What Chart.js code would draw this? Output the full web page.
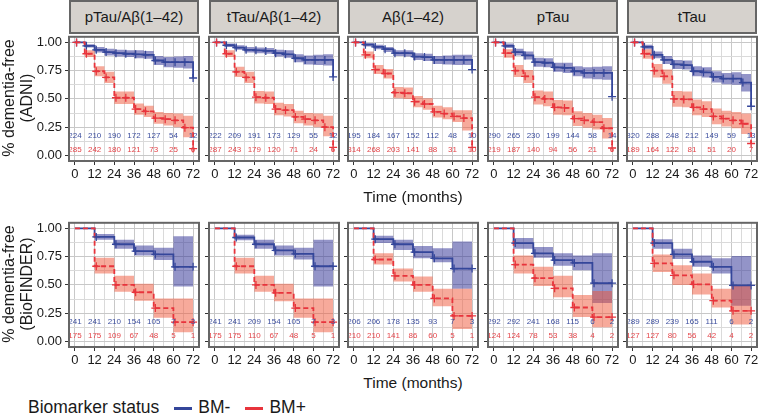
<!DOCTYPE html>
<html>
<head>
<meta charset="utf-8">
<script src="https://cdn.jsdelivr.net/npm/chart.js@4.4.1/dist/chart.umd.min.js"></script>
<style>
body { margin: 0; background: #fff; font-family: "Liberation Sans", Arial, Helvetica, sans-serif; }
#wrap { position: relative; width: 758px; height: 414px; overflow: hidden; }
#wrap canvas { position: absolute; }
.strip { position: absolute; top: 0; width: 130px; height: 34px; box-sizing: border-box; border: 2px solid #666;
  background: #d6d2cd; color: #1a1a1a; font-size: 15px; text-align: center; line-height: 30px; }
.ytitle { position: absolute; width: 200px; height: 36px; line-height: 18px; font-size: 16px; text-align: center;
  color: #1a1a1a; transform: rotate(-90deg); }
.xtitle { position: absolute; width: 200px; text-align: center; font-size: 15.5px; color: #1a1a1a; line-height: 18px; }
#legend { position: absolute; left: 28px; top: 397px; font-size: 17.5px; color: #1a1a1a; line-height: 20px; white-space: nowrap; }
#legend .key { display: inline-block; width: 18px; height: 3px; vertical-align: middle; margin: 0 6px 0 15px; }
</style>
</head>
<body>
<div id="wrap"></div>
<script>
// facets
var markerNames = ['pTau/Aβ(1–42)', 'tTau/Aβ(1–42)', 'Aβ(1–42)', 'pTau', 'tTau'];
var cohortNames = ['ADNI', 'BioFINDER'];

// time grids (months)
var adniTimes = [0, 6, 12, 18, 24, 30, 36, 42, 48, 54, 60, 66, 72];
var bfTimes = [0, 12, 24, 36, 48, 60, 72];
var riskTimes = [0, 12, 24, 36, 48, 60, 72];
var adniCensor = [1, 7, 13, 19, 25, 31, 37, 43, 49, 55, 61, 67, 72];
var bfCensor = [13, 25, 37, 49, 61, 72];

// ADNI, BM- (one row per biomarker)
var adniNegSurv = [
  [1, 0.97, 0.935, 0.915, 0.905, 0.90, 0.895, 0.89, 0.84, 0.825, 0.825, 0.825, 0.685],
  [1, 0.975, 0.955, 0.935, 0.93, 0.925, 0.905, 0.895, 0.86, 0.845, 0.845, 0.845, 0.695],
  [1, 0.98, 0.96, 0.94, 0.905, 0.905, 0.875, 0.87, 0.845, 0.845, 0.845, 0.845, 0.76],
  [1, 0.97, 0.915, 0.885, 0.825, 0.82, 0.78, 0.775, 0.745, 0.73, 0.73, 0.73, 0.52],
  [1, 0.96, 0.89, 0.845, 0.805, 0.80, 0.745, 0.735, 0.695, 0.68, 0.68, 0.645, 0.435]
];
var adniNegLo = [
  [1, 0.955, 0.91, 0.885, 0.875, 0.87, 0.86, 0.855, 0.80, 0.78, 0.775, 0.77, 0.685],
  [1, 0.96, 0.935, 0.91, 0.905, 0.90, 0.875, 0.865, 0.825, 0.805, 0.80, 0.795, 0.695],
  [1, 0.965, 0.94, 0.915, 0.88, 0.875, 0.845, 0.835, 0.81, 0.805, 0.80, 0.80, 0.76],
  [1, 0.95, 0.885, 0.85, 0.785, 0.78, 0.74, 0.73, 0.70, 0.68, 0.675, 0.67, 0.52],
  [1, 0.94, 0.86, 0.81, 0.765, 0.76, 0.70, 0.69, 0.645, 0.63, 0.625, 0.565, 0.435]
];
var adniNegHi = [
  [1, 0.985, 0.96, 0.945, 0.935, 0.93, 0.93, 0.925, 0.88, 0.87, 0.875, 0.88, 0.685],
  [1, 0.99, 0.975, 0.96, 0.955, 0.95, 0.935, 0.93, 0.895, 0.885, 0.89, 0.895, 0.695],
  [1, 0.995, 0.98, 0.96, 0.93, 0.93, 0.905, 0.90, 0.88, 0.885, 0.89, 0.89, 0.76],
  [1, 0.99, 0.945, 0.92, 0.865, 0.86, 0.82, 0.82, 0.79, 0.78, 0.785, 0.79, 0.52],
  [1, 0.98, 0.92, 0.88, 0.845, 0.84, 0.79, 0.78, 0.745, 0.73, 0.735, 0.72, 0.435]
];
// ADNI, BM+
var adniPosSurv = [
  [1, 0.90, 0.745, 0.69, 0.51, 0.51, 0.41, 0.39, 0.33, 0.32, 0.31, 0.245, 0.06],
  [1, 0.90, 0.74, 0.69, 0.515, 0.51, 0.41, 0.40, 0.34, 0.32, 0.31, 0.25, 0.07],
  [1, 0.89, 0.76, 0.725, 0.555, 0.55, 0.475, 0.455, 0.385, 0.37, 0.345, 0.33, 0.07],
  [1, 0.905, 0.75, 0.70, 0.515, 0.50, 0.425, 0.42, 0.325, 0.31, 0.295, 0.24, 0.065],
  [1, 0.90, 0.75, 0.70, 0.50, 0.495, 0.425, 0.41, 0.345, 0.325, 0.31, 0.28, 0.105]
];
var adniPosLo = [
  [1, 0.87, 0.70, 0.64, 0.455, 0.455, 0.36, 0.34, 0.28, 0.265, 0.25, 0.16, 0.06],
  [1, 0.87, 0.695, 0.64, 0.46, 0.455, 0.355, 0.345, 0.285, 0.265, 0.25, 0.17, 0.07],
  [1, 0.86, 0.72, 0.68, 0.505, 0.50, 0.425, 0.405, 0.335, 0.32, 0.295, 0.22, 0.07],
  [1, 0.865, 0.695, 0.64, 0.45, 0.435, 0.36, 0.355, 0.26, 0.245, 0.23, 0.15, 0.065],
  [1, 0.855, 0.69, 0.635, 0.43, 0.425, 0.355, 0.34, 0.275, 0.255, 0.24, 0.19, 0.105]
];
var adniPosHi = [
  [1, 0.93, 0.79, 0.74, 0.565, 0.565, 0.46, 0.44, 0.385, 0.375, 0.37, 0.35, 0.06],
  [1, 0.93, 0.785, 0.74, 0.57, 0.565, 0.465, 0.455, 0.395, 0.375, 0.37, 0.35, 0.07],
  [1, 0.92, 0.80, 0.765, 0.605, 0.60, 0.525, 0.505, 0.44, 0.425, 0.40, 0.40, 0.07],
  [1, 0.94, 0.80, 0.755, 0.575, 0.565, 0.49, 0.485, 0.39, 0.375, 0.36, 0.33, 0.065],
  [1, 0.94, 0.81, 0.76, 0.57, 0.565, 0.495, 0.48, 0.415, 0.395, 0.385, 0.37, 0.105]
];

// BioFINDER, BM-
var bfNegSurv = [
  [1, 0.925, 0.86, 0.80, 0.77, 0.66, 0.66],
  [1, 0.92, 0.86, 0.805, 0.775, 0.665, 0.665],
  [1, 0.905, 0.86, 0.79, 0.735, 0.645, 0.645],
  [1, 0.87, 0.78, 0.72, 0.695, 0.515, 0.515],
  [1, 0.87, 0.77, 0.705, 0.66, 0.495, 0.495]
];
var bfNegLo = [
  [1, 0.90, 0.82, 0.76, 0.72, 0.485, 0.485],
  [1, 0.895, 0.82, 0.76, 0.725, 0.485, 0.485],
  [1, 0.87, 0.81, 0.735, 0.70, 0.465, 0.465],
  [1, 0.82, 0.74, 0.67, 0.63, 0.34, 0.34],
  [1, 0.82, 0.73, 0.66, 0.60, 0.315, 0.315]
];
var bfNegHi = [
  [1, 0.95, 0.90, 0.85, 0.83, 0.93, 0.93],
  [1, 0.945, 0.90, 0.85, 0.83, 0.90, 0.90],
  [1, 0.935, 0.90, 0.845, 0.825, 0.885, 0.885],
  [1, 0.915, 0.835, 0.78, 0.76, 0.78, 0.78],
  [1, 0.905, 0.82, 0.76, 0.735, 0.755, 0.755]
];
// BioFINDER, BM+
var bfPosSurv = [
  [1, 0.665, 0.50, 0.435, 0.295, 0.17, 0.17],
  [1, 0.665, 0.50, 0.43, 0.295, 0.17, 0.17],
  [1, 0.725, 0.58, 0.50, 0.38, 0.225, 0.225],
  [1, 0.68, 0.56, 0.47, 0.30, 0.215, 0.215],
  [1, 0.69, 0.585, 0.505, 0.36, 0.27, 0.27]
];
var bfPosLo = [
  [1, 0.60, 0.44, 0.36, 0.21, 0.08, 0.08],
  [1, 0.60, 0.44, 0.355, 0.21, 0.08, 0.08],
  [1, 0.68, 0.53, 0.44, 0.31, 0.11, 0.11],
  [1, 0.60, 0.49, 0.39, 0.215, 0.125, 0.125],
  [1, 0.615, 0.50, 0.415, 0.30, 0.15, 0.15]
];
var bfPosHi = [
  [1, 0.74, 0.58, 0.51, 0.38, 0.38, 0.38],
  [1, 0.74, 0.58, 0.51, 0.38, 0.38, 0.38],
  [1, 0.78, 0.645, 0.575, 0.465, 0.465, 0.465],
  [1, 0.76, 0.66, 0.58, 0.41, 0.445, 0.445],
  [1, 0.77, 0.675, 0.60, 0.465, 0.50, 0.50]
];

// numbers at risk
var adniNegRisk = [
  [224, 210, 190, 172, 127, 54, 12],
  [222, 209, 191, 173, 129, 55, 12],
  [195, 184, 167, 152, 112, 48, 10],
  [290, 265, 230, 199, 144, 58, 14],
  [320, 288, 248, 212, 149, 59, 13]
];
var adniPosRisk = [
  [285, 242, 180, 121, 73, 25, 6],
  [287, 243, 179, 120, 71, 24, 6],
  [314, 268, 203, 141, 88, 31, 10],
  [219, 187, 140, 94, 56, 21, 6],
  [189, 164, 122, 81, 51, 20, 7]
];
var bfNegRisk = [
  [241, 241, 210, 154, 105, 7, 3],
  [241, 241, 209, 154, 105, 7, 3],
  [206, 206, 178, 135, 93, 7, 3],
  [292, 292, 241, 168, 115, 6, 2],
  [289, 289, 239, 165, 111, 6, 2]
];
var bfPosRisk = [
  [175, 175, 109, 67, 48, 5, 1],
  [175, 175, 110, 67, 48, 5, 1],
  [210, 210, 141, 86, 60, 5, 1],
  [124, 124, 78, 53, 38, 4, 2],
  [127, 127, 80, 56, 42, 4, 2]
];

var blue = '#34469a', red = '#e8343c';
var blueBand = 'rgba(40, 42, 145, 0.5)', redBand = 'rgba(240, 85, 55, 0.5)';
var blueText = '#3d4f9f', redText = '#e5454a';

var panelLeft = [69, 209, 348, 488, 627];
var panelW = 130, panelH = 127;
var rowTop = [34, 220];
var xTickVals = [0, 6, 12, 18, 24, 30, 36, 42, 48, 54, 60, 66, 72];
var yTickVals = [0, 0.125, 0.25, 0.375, 0.5, 0.625, 0.75, 0.875, 1];

var wrap = document.getElementById('wrap');

function pts(times, vals) {
  return times.map(function (t, i) { return { x: t, y: vals[i] }; });
}
function censorPts(cTimes, times, vals) {
  return cTimes.map(function (t) {
    var k = 0;
    for (var i = 0; i < times.length; i++) { if (times[i] <= t) k = i; }
    return { x: t, y: vals[k] };
  });
}

var riskPlugin = {
  id: 'riskTable',
  afterDatasetsDraw: function (chart, args, opts) {
    var ctx = chart.ctx, xs = chart.scales.x, ys = chart.scales.y;
    ctx.save();
    ctx.font = '8px "Liberation Sans", Arial, sans-serif';
    ctx.textAlign = 'center';
    ctx.textBaseline = 'middle';
    riskTimes.forEach(function (t, i) {
      ctx.fillStyle = blueText;
      ctx.fillText(String(opts.neg[i]), xs.getPixelForValue(t), ys.getPixelForValue(0.17));
      ctx.fillStyle = redText;
      ctx.fillText(String(opts.pos[i]), xs.getPixelForValue(t), ys.getPixelForValue(0.045));
    });
    ctx.restore();
  }
};
var framePlugin = {
  id: 'frame',
  afterDraw: function (chart) {
    var a = chart.chartArea, ctx = chart.ctx;
    ctx.save();
    ctx.strokeStyle = '#666';
    ctx.lineWidth = 2;
    ctx.strokeRect(a.left, a.top, a.right - a.left, a.bottom - a.top);
    ctx.restore();
  }
};

function isMajorX(v) { return v % 12 === 0; }
function isMajorY(v) { return Math.abs(v * 4 - Math.round(v * 4)) < 1e-9; }

function makePanel(row, col) {
  var adni = row === 0;
  var times = adni ? adniTimes : bfTimes;
  var cTimes = adni ? adniCensor : bfCensor;
  var nS = (adni ? adniNegSurv : bfNegSurv)[col];
  var nL = (adni ? adniNegLo : bfNegLo)[col];
  var nH = (adni ? adniNegHi : bfNegHi)[col];
  var pS = (adni ? adniPosSurv : bfPosSurv)[col];
  var pL = (adni ? adniPosLo : bfPosLo)[col];
  var pH = (adni ? adniPosHi : bfPosHi)[col];

  var yw = col === 0 ? 40 : 6;
  var padTop = 8, padRight = 10, xh = 26;
  var cv = document.createElement('canvas');
  cv.width = panelW + yw + padRight;
  cv.height = padTop + panelH + xh;
  cv.style.left = (panelLeft[col] - yw) + 'px';
  cv.style.top = (rowTop[row] - padTop) + 'px';
  wrap.appendChild(cv);

  new Chart(cv, {
    type: 'line',
    data: {
      datasets: [
        { data: pts(times, nH), fill: '+1', backgroundColor: blueBand, borderWidth: 0, pointRadius: 0, stepped: true, order: 6 },
        { data: pts(times, nL), fill: false, borderWidth: 0, pointRadius: 0, stepped: true, order: 6 },
        { data: pts(times, pH), fill: '+1', backgroundColor: redBand, borderWidth: 0, pointRadius: 0, stepped: true, order: 5 },
        { data: pts(times, pL), fill: false, borderWidth: 0, pointRadius: 0, stepped: true, order: 5 },
        { data: pts(times, nS), borderColor: blue, borderWidth: 1.8, pointRadius: 0, stepped: true, fill: false, order: 3 },
        { data: pts(times, pS), borderColor: red, borderWidth: 1.8, borderDash: [5, 3], pointRadius: 0, stepped: true, fill: false, order: 2 },
        { data: censorPts(cTimes, times, nS), showLine: false, pointStyle: 'cross', pointRadius: 4,
          pointBorderColor: blue, pointBorderWidth: 1.3, order: 1 },
        { data: censorPts(cTimes, times, pS), showLine: false, pointStyle: 'cross', pointRadius: 4,
          pointBorderColor: red, pointBorderWidth: 1.3, order: 0 }
      ]
    },
    options: {
      responsive: false,
      animation: false,
      devicePixelRatio: 1,
      layout: { padding: { top: padTop, right: padRight, left: 0, bottom: 0 } },
      plugins: {
        legend: { display: false },
        tooltip: { enabled: false },
        riskTable: { neg: (adni ? adniNegRisk : bfNegRisk)[col], pos: (adni ? adniPosRisk : bfPosRisk)[col] }
      },
      scales: {
        x: {
          type: 'linear', min: -3.6, max: 75.6,
          afterBuildTicks: function (s) { s.ticks = xTickVals.map(function (v) { return { value: v }; }); },
          afterFit: function (s) { s.height = xh; },
          border: { display: false },
          grid: {
            color: function (c) { return isMajorX(c.tick.value) ? '#c8c8c8' : '#dadada'; },
            tickColor: function (c) { return isMajorX(c.tick.value) ? '#333' : 'rgba(0,0,0,0)'; },
            tickLength: 4, lineWidth: 1
          },
          ticks: {
            autoSkip: false, maxRotation: 0, minRotation: 0, padding: 2, color: '#1a1a1a',
            font: { size: 13, family: '"Liberation Sans", Arial, sans-serif' },
            callback: function (v) { return isMajorX(v) ? String(v) : ''; }
          }
        },
        y: {
          type: 'linear', min: -0.05, max: 1.05,
          afterBuildTicks: function (s) { s.ticks = yTickVals.map(function (v) { return { value: v }; }); },
          afterFit: function (s) { s.width = yw; },
          border: { display: false },
          grid: {
            color: function (c) { return isMajorY(c.tick.value) ? '#c8c8c8' : '#dadada'; },
            tickColor: function (c) { return isMajorY(c.tick.value) ? '#333' : 'rgba(0,0,0,0)'; },
            tickLength: 4, lineWidth: 1
          },
          ticks: {
            autoSkip: false, padding: 3, color: '#1a1a1a',
            font: { size: 13, family: '"Liberation Sans", Arial, sans-serif' },
            callback: function (v) { return (col === 0 && isMajorY(v)) ? v.toFixed(2) : ''; }
          }
        }
      }
    },
    plugins: [riskPlugin, framePlugin]
  });
}

markerNames.forEach(function (name, col) {
  var s = document.createElement('div');
  s.className = 'strip';
  s.style.left = panelLeft[col] + 'px';
  s.textContent = name;
  wrap.appendChild(s);
  makePanel(0, col);
  makePanel(1, col);
});

cohortNames.forEach(function (name, row) {
  var d = document.createElement('div');
  d.className = 'ytitle';
  d.style.left = (18 - 100) + 'px';
  d.style.top = (rowTop[row] + panelH / 2 - 18) + 'px';
  d.innerHTML = '% dementia-free<br>(' + name + ')';
  wrap.appendChild(d);

  var t = document.createElement('div');
  t.className = 'xtitle';
  t.style.left = (413 - 100) + 'px';
  t.style.top = (rowTop[row] + panelH + 27) + 'px';
  t.textContent = 'Time (months)';
  wrap.appendChild(t);
});

var lg = document.createElement('div');
lg.id = 'legend';
lg.innerHTML = 'Biomarker status<span class="key" style="background:' + blue + '"></span>BM-' +
  '<span class="key" style="background:' + red + '"></span>BM+';
wrap.appendChild(lg);
</script>
</body>
</html>
